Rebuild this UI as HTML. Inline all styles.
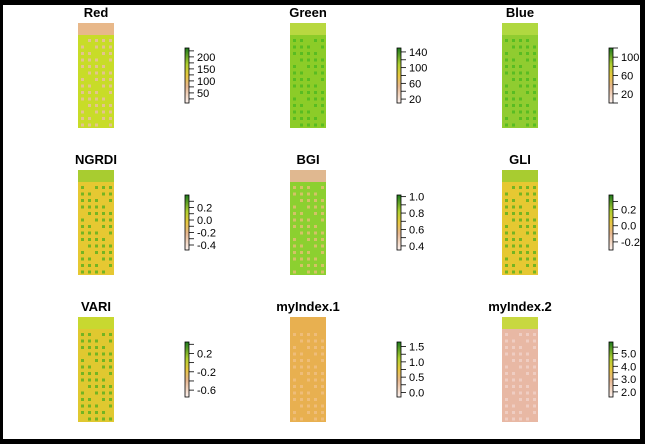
<!DOCTYPE html>
<html><head><meta charset="utf-8"><style>
html,body{margin:0;padding:0;background:#fff;}
#frame{position:relative;width:645px;height:444px;overflow:hidden;background:#fff;}
</style></head><body>
<div id="frame">
<svg id="s" width="645" height="444" xmlns="http://www.w3.org/2000/svg">
<defs>
<linearGradient id="lg" x1="0" y1="1" x2="0" y2="0">
<stop offset="0" stop-color="#fdf3f0"/><stop offset="0.3" stop-color="#e8b890"/><stop offset="0.5" stop-color="#e8c840"/><stop offset="0.7" stop-color="#b0d030"/><stop offset="1" stop-color="#1e7a1e"/>
</linearGradient>
</defs>
<rect x="0" y="0" width="645" height="5" fill="#000"/>
<rect x="0" y="0" width="3" height="444" fill="#000"/>
<rect x="640" y="0" width="5" height="444" fill="#000"/>
<rect x="0" y="439" width="645" height="5" fill="#000"/>
</svg>
</div>
<script>
const titles=["Red","Green","Blue","NGRDI","BGI","GLI","VARI","myIndex.1","myIndex.2"];
const legendMin=[8,10,0,-0.48,0.35,-0.3,-0.75,-0.15,1.6];
const legendMax=[237,150,120,0.4,1.02,0.38,0.45,1.65,5.9];
const tickLabels=[["200","150","100","50"],["140","100","60","20"],["100","60","20"],["0.2","0.0","-0.2","-0.4"],["1.0","0.8","0.6","0.4"],["0.2","0.0","-0.2"],["0.2","-0.2","-0.6"],["1.5","1.0","0.5","0.0"],["5.0","4.0","3.0","2.0"]];
const tickValues=[[200,150,100,50],[140,100,60,20],[100,60,20],[0.2,0,-0.2,-0.4],[1,0.8,0.6,0.4],[0.2,0,-0.2],[0.2,-0.2,-0.6],[1.5,1,0.5,0],[5,4,3,2]];
const bodyCol=["#c8dc28","#8ccc28","#90cc30","#e6c832","#8cd030","#e6c832","#e0c830","#e8b050","#e8b8a4"];
const bandCol=["#e8b88a","#b8d840","#b0d840","#a8cc30","#e0b890","#a8cc30","#c8d830","#e8b050","#c8d840"];
const spotCol=["#e8c0a0","#50b820","#50b820","#60b020","#e0c070","#60b020","#60b020","#f0c080","#f0d0c8"];
const NS="http://www.w3.org/2000/svg";
const s=document.getElementById('s');
function el(t,a){const e=document.createElementNS(NS,t);for(const k in a)e.setAttribute(k,a[k]);return e;}
const colX=[78,290,502], rowY=[23,170,317];
titles.forEach((t,i)=>{
 const cx=colX[i%3], ry=rowY[Math.floor(i/3)];
 const g=el('g',{});
 
 
 const tt=el('text',{x:cx+18,y:ry-6,'text-anchor':'middle','font-family':'Liberation Sans, sans-serif','font-size':'13','font-weight':'bold',fill:'#000'});
 tt.textContent=t;
 
 
 g.appendChild(tt);
 const img=el('rect',{x:cx,y:ry,width:36,height:105,fill:bodyCol[i]});
 
 
 g.appendChild(img);
 g.appendChild(el('rect',{x:cx,y:ry,width:36,height:12,fill:bandCol[i]}));
 for(let r=0;r<14;r++)for(let c=0;c<5;c++){
   if((r*3+c*7+i)%5===0)continue;
   g.appendChild(el('rect',{x:cx+3+c*7,y:ry+16+r*6.5,width:3,height:3,fill:spotCol[i],opacity:0.85}));
 }
 const lx=cx+107, top=ry+25, bot=ry+80;
 const bar=el('rect',{x:lx,y:top,width:4,height:bot-top,fill:'url(#lg)',stroke:'#000','stroke-width':'0.8'});
 
 
 g.appendChild(bar);
 const sc=v=>bot-(v-legendMin[i])/(legendMax[i]-legendMin[i])*(bot-top);
 const tv=tickValues[i];
 const step=Math.abs(tv[0]-tv[1]);
 for(let v=tv[tv.length-1]-step/2; v<=legendMax[i]; v+=step){
   if(v<legendMin[i])continue;
   const y=sc(v);
   g.appendChild(el('line',{x1:lx+4,x2:lx+9,y1:y,y2:y,stroke:'#000','stroke-width':'0.8'}));
 }
 tv.forEach((v,k)=>{
   const y=sc(v);
   g.appendChild(el('line',{x1:lx+4,x2:lx+9,y1:y,y2:y,stroke:'#000','stroke-width':'0.8'}));
   const tl=el('text',{x:lx+12,y:y+4,'font-family':'Liberation Sans, sans-serif','font-size':'11',fill:'#000'});
   tl.textContent=tickLabels[i][k];
   
   
   g.appendChild(tl);
 });
 s.appendChild(g);
});
</script>
</body></html>
